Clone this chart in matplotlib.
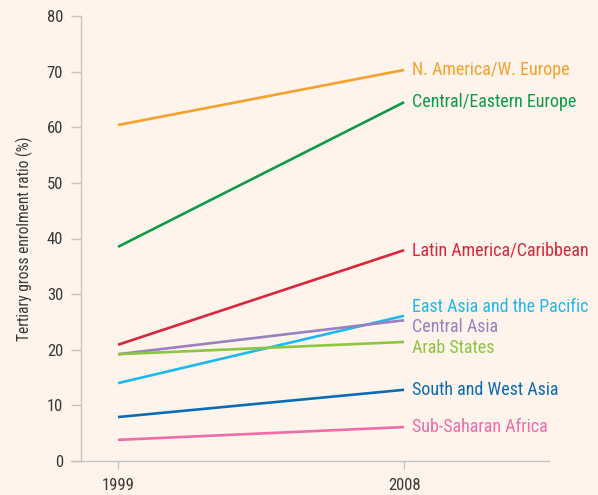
import matplotlib
matplotlib.use("Agg")
import matplotlib.pyplot as plt

years = [1999, 2008]
regions = ["N. America/W. Europe", "Central/Eastern Europe", "Latin America/Caribbean",
           "East Asia and the Pacific", "Central Asia", "Arab States",
           "South and West Asia", "Sub-Saharan Africa"]
v1999 = [60.4, 38.5, 20.9, 14.0, 19.2, 19.2, 7.9, 3.8]
v2008 = [70.3, 64.5, 37.9, 26.1, 25.3, 21.4, 12.8, 6.1]
colors = ["#F7A12B", "#0E9A48", "#D9273A", "#1DB9EE", "#9B7FBF", "#8CC540", "#0A6BB3", "#F06BA8"]
label_y = [70.3, 64.6, 37.9, 27.6, 24.0, 20.4, 12.8, 6.1]

plt.rcParams["font.family"] = ["Roboto Condensed", "DejaVu Sans"]

BG = "#FEF4EC"
GRID = "#C4C4C4"
fig = plt.figure(figsize=(5.98, 4.95), dpi=100, facecolor=BG)
ax = fig.add_axes([71/598, 34/495, (549-71)/598, (461-16)/495], facecolor=BG)

for name, a, b, c, ly in zip(regions, v1999, v2008, colors, label_y):
    ax.plot(years, [a, b], color=c, lw=1.9, solid_capstyle="butt")
    ax.text(2008.25, ly, name, color=c, fontsize=13, va="center", ha="left")

ax.set_xlim(1997.52, 2012.56)
ax.set_ylim(0, 80)
ax.set_xticks(years)
ax.set_yticks(range(0, 81, 10))
for s in ["top", "right"]:
    ax.spines[s].set_visible(False)
ax.spines["left"].set_position(("data", 1997.84))
for s in ["left", "bottom"]:
    ax.spines[s].set_color(GRID)
    ax.spines[s].set_linewidth(1.0)
ax.tick_params(axis="both", colors=GRID, labelcolor="#383838", labelsize=12, width=1.0)
ax.tick_params(axis="y", length=7, pad=6)
ax.tick_params(axis="x", length=6, pad=6)
ax.set_ylabel("Tertiary gross enrolment ratio (%)", fontsize=11.2, color="#383838", labelpad=10)

fig.savefig("out.png", dpi=100, facecolor=BG)
